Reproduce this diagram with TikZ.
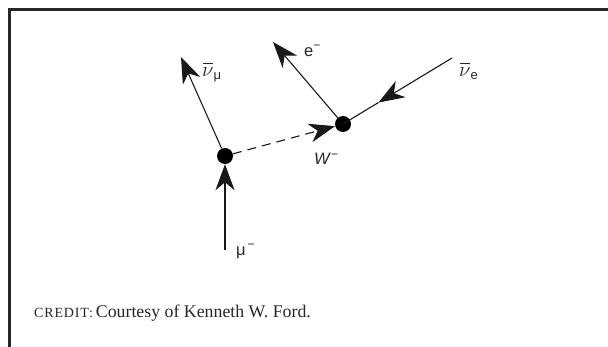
\documentclass[tikz,border=0pt]{standalone}
\usepackage{fontspec}
\setmainfont{Liberation Serif}
\newfontfamily\lsans{Liberation Sans}
\newfontfamily\scfont[LetterSpace=6]{Liberation Serif}
\usetikzlibrary{arrows.meta,calc}
\newcommand{\barnu}{\rlap{\hspace{1pt}\raisebox{13pt}{\rule{9.5pt}{1.1pt}}}\fontsize{20}{20}\selectfont$\nu$}
\tikzset{
  line/.style={line width=1.1pt, draw=black!90},
  tip/.style={-{Stealth[length=26pt,width=19pt,inset=8pt]}},
  vertex/.style={circle, fill=black, inner sep=0pt, minimum size=16pt},
  lab/.style={inner sep=0pt, font=\lsans\fontsize{16.5}{18}\selectfont, text=black!85},
  frame/.style={line width=2.6pt, draw=black!85}
}
\begin{document}
\begin{tikzpicture}[x=1pt,y=-1pt]
\useasboundingbox (0,0) rectangle (608,347);
\draw[frame] (9.5,347) -- (9.5,9.5) -- (608,9.5);
% vertices
\node[vertex] (va) at (225,156) {};
\node[vertex] (vb) at (343,124) {};
% free ends
\coordinate (mu) at (225,250);
\coordinate (nm) at (181,57);
\coordinate (el) at (273,42);
\coordinate (ne) at (452,58);
\coordinate (nem) at ($(ne)!0.675!(vb)$);
% lines
\draw[line,tip] (mu) -- (va);
\draw[line,tip] (va) -- (nm);
\draw[line,tip] (vb) -- (el);
\draw[line,tip] (ne) -- (nem);
\draw[line] (nem) -- (vb.center);
\draw[line,tip,dash pattern=on 9pt off 6pt] (va) -- (vb);
% labels
\node[lab, anchor=base west] (lmu) at (236,256) {μ\raisebox{7pt}{\fontsize{12}{12}\selectfont\,−}};
\node[lab, anchor=base west] (lel) at (304,57) {e\raisebox{7pt}{\fontsize{12}{12}\selectfont −}};
\node[lab, anchor=base west] (lw) at (314,165) {\textit{W}\raisebox{6pt}{\fontsize{12}{12}\selectfont −}};
\node[lab, anchor=base west] (lnm) at (202,77) {\barnu\raisebox{-3pt}{\fontsize{13}{13}\selectfont μ}};
\node[lab, anchor=base west] (lne) at (459,77) {\barnu\raisebox{-3pt}{\fontsize{13}{13}\selectfont e}};
\node[inner sep=0pt, anchor=base west, font=\fontsize{17.8}{20}\selectfont, text=black!85] (cr) at (34,318) {{\scfont\fontsize{14}{16}\selectfont CREDIT:}\,Courtesy of Kenneth W. Ford.};
\end{tikzpicture}
\end{document}
